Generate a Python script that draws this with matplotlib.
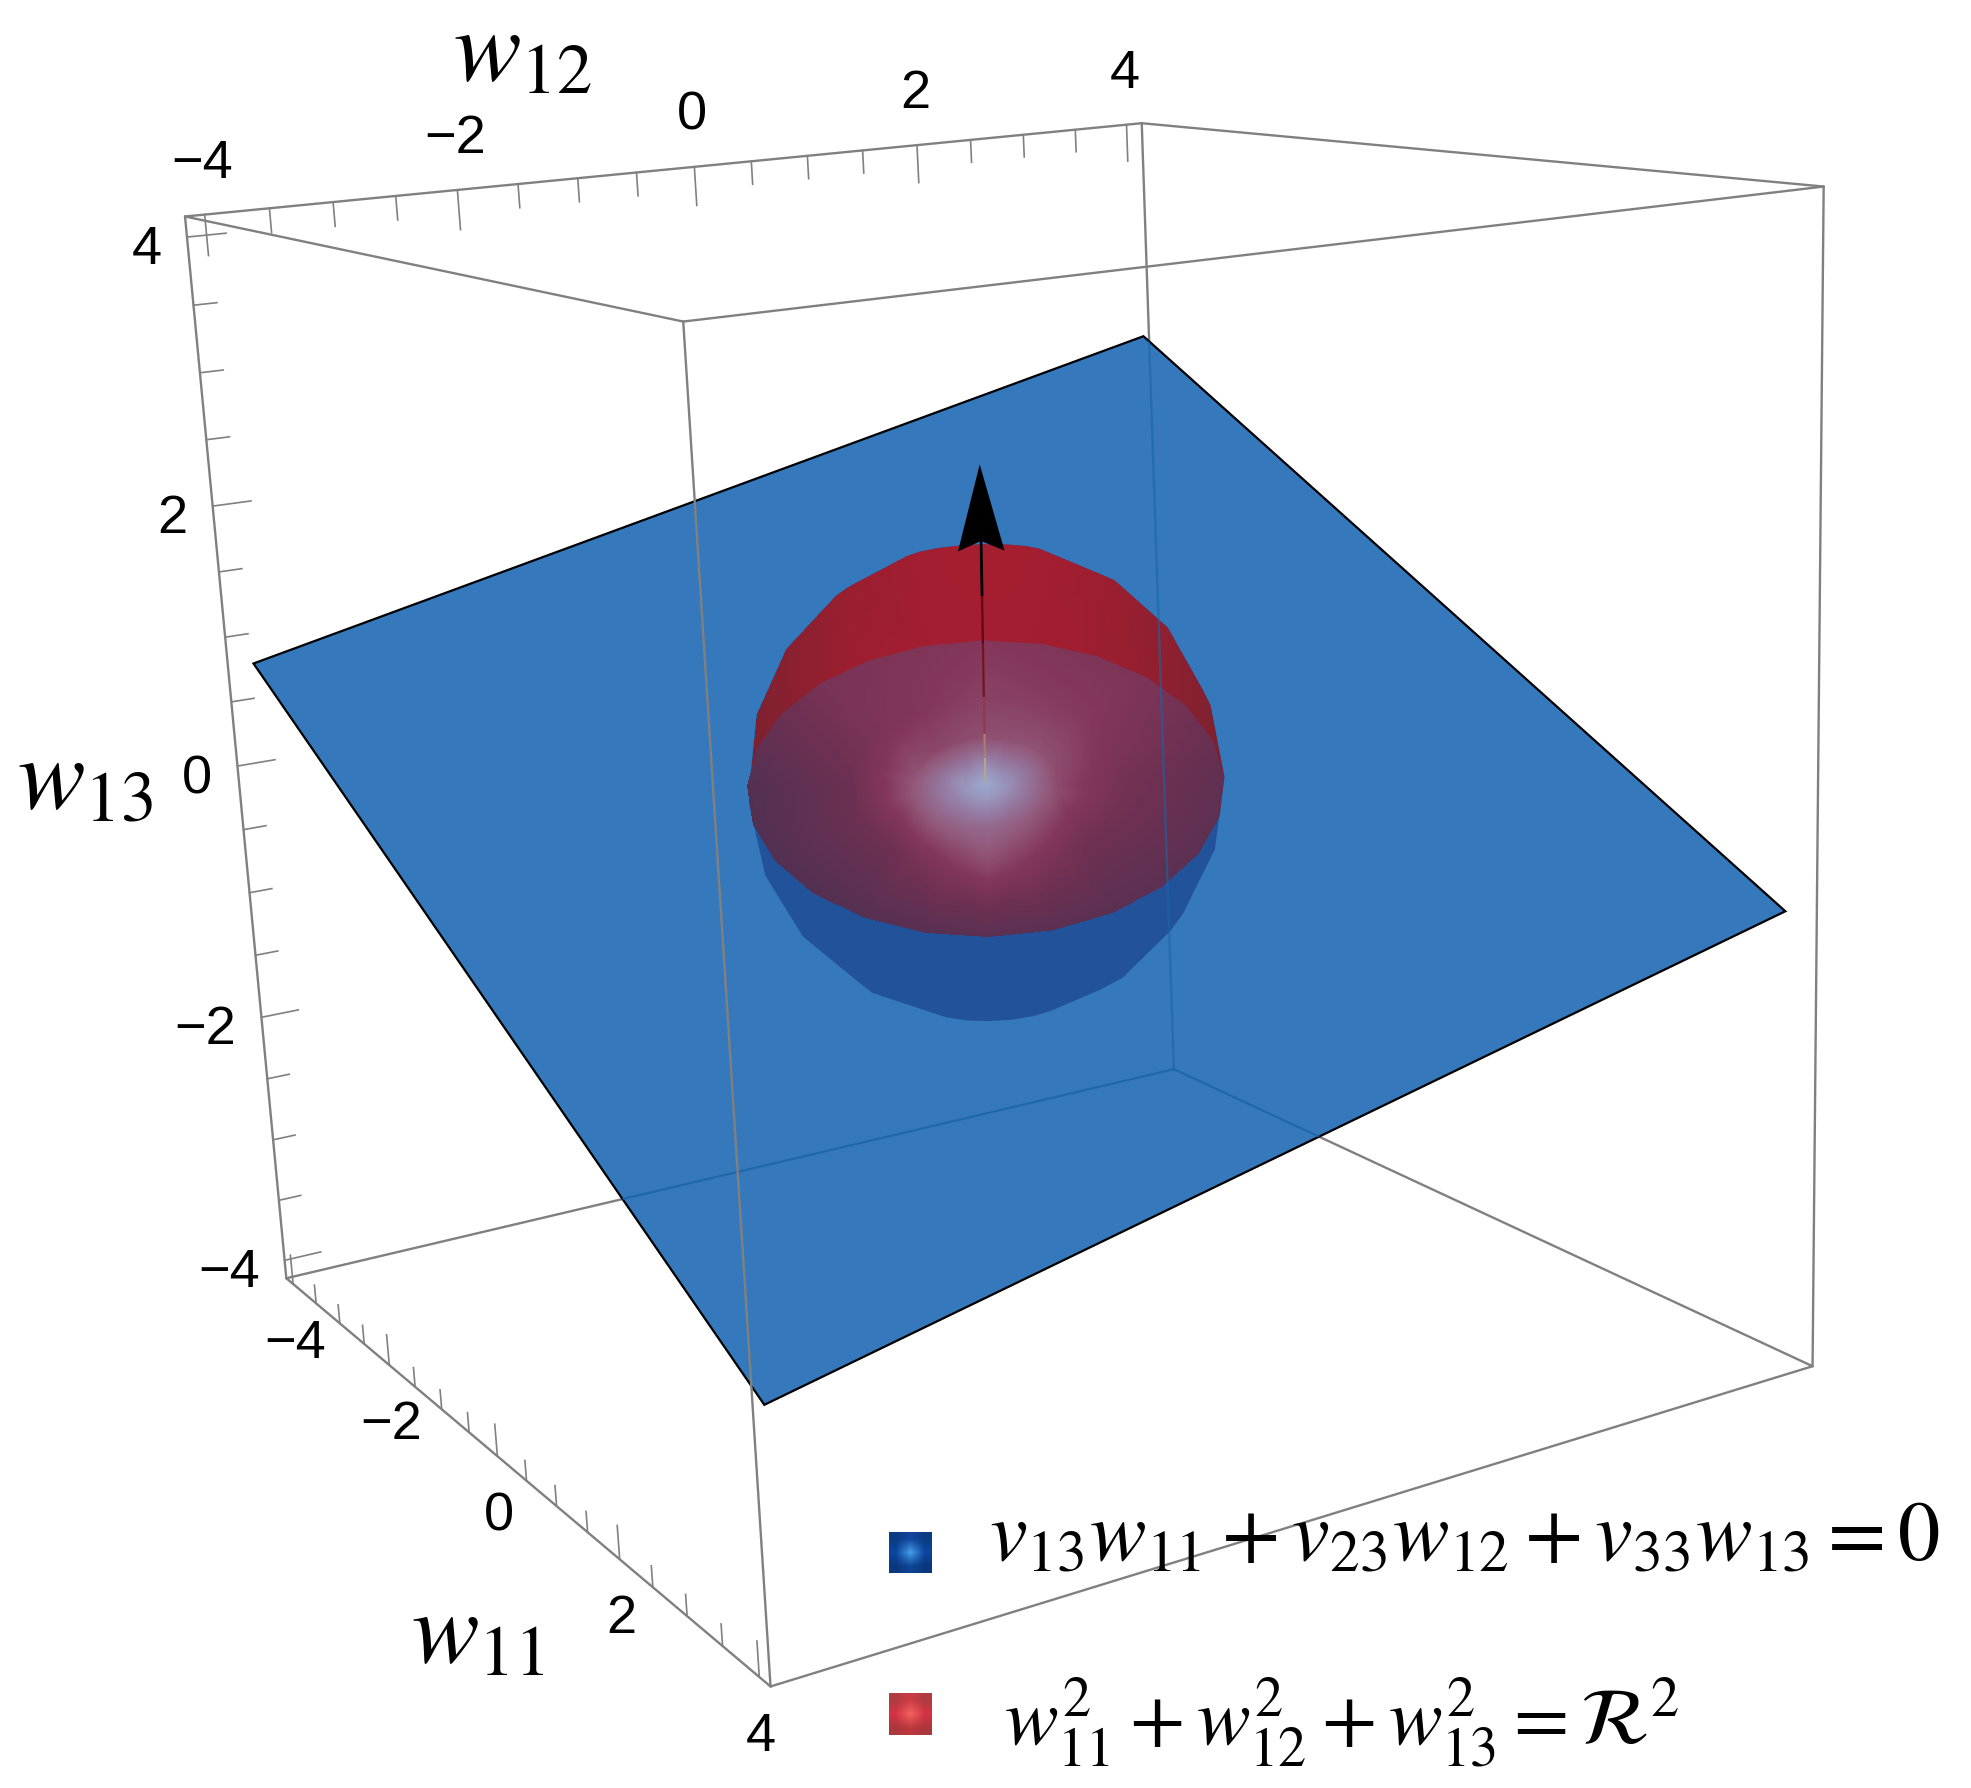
# Plane through the origin and a sphere inside a 3D box, drawn in a plain 2D axes
# through a perspective camera fitted to the box corners
import numpy as np
import matplotlib
matplotlib.use('Agg')  # no display here
import matplotlib.pyplot as plt
import matplotlib.tri as mtri
from matplotlib.collections import LineCollection
from matplotlib.colors import LinearSegmentedColormap
from matplotlib.patches import Polygon

WIDTH, HEIGHT = 1971, 1788

plt.rcParams['font.family'] = ['Liberation Sans', 'DejaVu Sans']
plt.rcParams['mathtext.fontset'] = 'stix'

# data
BOX = 4.15
MAJOR_TICKS = [-4, -2, 0, 2, 4]
MINOR_STEP = 0.5
NORMAL = [2, -1, 5]      # v13, v23, v33
PLANE_HALF = 4
RADIUS = 1.72
ARROW_FACTOR = 0.5       # tip = factor * NORMAL
NOTCH_AT = 0.77
SHAFT_STOPS = [0, 0.08, 0.16, 0.28, 0.45, 0.6, 0.77]
SHAFT_COLORS = ['#b8a488', '#a8806c', '#8c3c44', '#741420', '#640a12', '#000000']

RING_R = [0, 0.1, 0.3, 0.58, 1]
SHADE_CENTER = 1.0
SHADE_R10 = [0.88, 0.84, 0.88, 0.84, 0.90, 0.92, 0.94, 0.90]
SHADE_R30 = [0.54, 0.58, 0.56, 0.52, 0.60, 0.66, 0.70, 0.60]
SHADE_R58 = [0.32, 0.47, 0.50, 0.40, 0.24, 0.26, 0.52, 0.28]
SHADE_RIM = [0.15, 0.38, 0.45, 0.35, 0.03, 0.03, 0.10, 0.10]

AXIS_LABELS = ['$w_{11}$', '$w_{12}$', '$w_{13}$']
LEGEND_LABELS = ['$v_{13}w_{11}+v_{23}w_{12}+v_{33}w_{13}=0$',
                 '$w_{11}^{2}+w_{12}^{2}+w_{13}^{2}=\\mathcal{R}^{2}$']

# where the eight box corners land in the picture, used to fit the camera
VIEW_BOX = [[-1, -1, 1], [-1, 1, 1], [1, 1, 1], [1, -1, 1],
            [-1, -1, -1], [-1, 1, -1], [1, 1, -1], [1, -1, -1]]
VIEW_PX = [[185, 216], [1141, 123], [1824, 187], [684, 322],
           [287, 1278], [1174, 1070], [1813, 1365], [769, 1687]]

BOX_LINE = '#808080'
PLANE_BLUE = '#3578bc'
SPHERE_BLUE = '#22539a'
THROUGH_BLUE = '#1a64a8'


def fit_camera(world, px):
    rows = []
    for (X, Y, Z), (u, v) in zip(world, px):
        rows.append([X, Y, Z, 1, 0, 0, 0, 0, -u*X, -u*Y, -u*Z, -u])
        rows.append([0, 0, 0, 0, X, Y, Z, 1, -v*X, -v*Y, -v*Z, -v])
    return np.linalg.svd(np.array(rows))[2][-1].reshape(3, 4)


CAM = fit_camera(np.array(VIEW_BOX) * BOX, VIEW_PX)
cam_null = np.linalg.svd(CAM)[2][-1]
CAM_POS = cam_null[:3] / cam_null[3]


def proj(points):
    points = np.atleast_2d(points).astype(float)
    h = CAM @ np.c_[points, np.ones(len(points))].T
    return (h[:2] / h[2]).T


def hull(pts):
    # monotone chain
    pts = sorted(map(tuple, pts))
    def half(seq):
        out = []
        for p in seq:
            while len(out) > 1 and np.cross(np.subtract(out[-1], out[-2]), np.subtract(p, out[-1])) <= 0:
                out.pop()
            out.append(p)
        return out[:-1]
    return np.array(half(pts) + half(pts[::-1]))


def smooth_fill(x, y, values, cmap, zorder):
    # linear shading over a triangle mesh, painted as one image so no seams show
    tri = mtri.Triangulation(x, y)
    gx, gy = np.meshgrid(np.arange(np.floor(x.min()), np.ceil(x.max()) + 1),
                         np.arange(np.floor(y.min()), np.ceil(y.max()) + 1))
    grid = mtri.LinearTriInterpolator(tri, values)(gx, gy)
    return ax.imshow(grid, extent=(gx.min() - 0.5, gx.max() + 0.5, gy.max() + 0.5, gy.min() - 0.5),
                     cmap=cmap, vmin=0, vmax=1, aspect='auto', interpolation='bilinear', zorder=zorder)


fig = plt.figure(figsize=(WIDTH / 100, HEIGHT / 100), dpi=100)
ax = fig.add_axes([0, 0, 1, 1])
ax.axis('off')

corner = {name: np.array(c) * BOX for name, c in zip('ABCDEFGH', VIEW_BOX)}


def edge(p, q, **kw):
    ax.plot(*proj([corner[p], corner[q]]).T, solid_capstyle='round', **kw)


# box edges behind the plane
for p, q in ['AB', 'BC', 'CD', 'DA', 'EF', 'FG', 'GH', 'HE', 'AE', 'BF', 'CG']:
    edge(p, q, color=BOX_LINE, lw=1.7, zorder=1)

# plane
n = np.array(NORMAL, float)
plane_xy = np.array([[-1, -1], [-1, 1], [1, 1], [1, -1]]) * PLANE_HALF
plane_z = -(n[0] * plane_xy[:, 0] + n[1] * plane_xy[:, 1]) / n[2]
plane_px = proj(np.c_[plane_xy, plane_z])
ax.add_patch(Polygon(plane_px, closed=True, facecolor=PLANE_BLUE, edgecolor='black', lw=1.6, zorder=2))

# sphere outline from a coarse latitude/longitude mesh
lon = np.linspace(0, 2 * np.pi, 20, endpoint=False)
lat = np.linspace(-np.pi / 2, np.pi / 2, 11)
lo, la = np.meshgrid(lon, lat)
sphere = RADIUS * np.c_[(np.cos(la) * np.cos(lo)).ravel(), (np.cos(la) * np.sin(lo)).ravel(), np.sin(la).ravel()]
outline = hull(proj(sphere))
ax.add_patch(Polygon(outline, closed=True, facecolor=SPHERE_BLUE, edgecolor='none', zorder=3))

# disc where the sphere meets the plane
unit = n / np.linalg.norm(n)
e1 = np.cross(unit, CAM_POS)
e1 /= np.linalg.norm(e1)
e2 = np.cross(unit, e1)
theta = np.linspace(0, 2 * np.pi, 24, endpoint=False)
angle_known = np.linspace(0, 2 * np.pi, 9)


def ring_shade(values):
    return np.interp(theta, angle_known, list(values) + [values[0]])


rim_px = proj(RADIUS * (np.outer(np.cos(theta), e1) + np.outer(np.sin(theta), e2)))
left_pt = rim_px[np.argmin(rim_px[:, 0])]
right_pt = rim_px[np.argmax(rim_px[:, 0])]

# red cap above the disc, darker towards the sides
center_px = proj([[0, 0, 0]])[0]
cap_x = np.r_[center_px[0], center_px[0] + 0.55 * (outline[:, 0] - center_px[0]), outline[:, 0]]
cap_y = np.r_[center_px[1], center_px[1] + 0.55 * (outline[:, 1] - center_px[1]), outline[:, 1]]
side = np.abs(outline[:, 0] - center_px[0]) / (outline[:, 0].max() - center_px[0])
cap_val = np.r_[1, np.ones(len(outline)) * 0.95, 1 - side ** 2.2]
red_map = LinearSegmentedColormap.from_list('cap', ['#7c2230', '#a51e30'])
cap = smooth_fill(cap_x, cap_y, cap_val, red_map, 4)
slope = (right_pt - left_pt) / np.linalg.norm(right_pt - left_pt)
far_l, far_r = left_pt - 60 * slope, right_pt + 60 * slope
cap_clip = hull(np.r_[outline[outline[:, 1] < np.interp(outline[:, 0], [far_l[0], far_r[0]], [far_l[1], far_r[1]])], [left_pt, right_pt]])
cap.set_clip_path(Polygon(cap_clip, transform=ax.transData))

# disc shading on a polar mesh
xs, ys, vals = [center_px[0]], [center_px[1]], [SHADE_CENTER]
for r, shade in zip(RING_R[1:], [SHADE_R10, SHADE_R30, SHADE_R58, SHADE_RIM]):
    ring = proj(r * RADIUS * (np.outer(np.cos(theta), e1) + np.outer(np.sin(theta), e2)))
    xs.extend(ring[:, 0])
    ys.extend(ring[:, 1])
    vals.extend(ring_shade(shade))
disc_map = LinearSegmentedColormap.from_list('disc', [
    (0.0, (80/255, 48/255, 82/255)), (0.25, (108/255, 48/255, 82/255)),
    (0.45, (132/255, 55/255, 90/255)), (0.6, (146/255, 88/255, 122/255)),
    (0.8, (150/255, 125/255, 165/255)), (1.0, (155/255, 168/255, 205/255))])
disc = smooth_fill(np.array(xs), np.array(ys), np.array(vals), disc_map, 5)
disc.set_clip_path(Polygon(rim_px, transform=ax.transData))

# back edges seen through the plane
for p, q, alpha in [('B', 'F', 0.6), ('E', 'F', 0.8), ('F', 'G', 0.8)]:
    line = ax.plot(*proj([corner[p], corner[q]]).T, color=THROUGH_BLUE, lw=1.6, alpha=alpha, zorder=6)[0]
    line.set_clip_path(Polygon(plane_px, transform=ax.transData))

# front edge comes over everything
edge('D', 'H', color=BOX_LINE, lw=1.7, zorder=7)

# arrow along the plane normal
tip = ARROW_FACTOR * n
stops = proj(np.outer(SHAFT_STOPS, tip))
ax.add_collection(LineCollection(np.stack([stops[:-1], stops[1:]], axis=1), colors=SHAFT_COLORS,
                                 linewidths=[1.5, 1.5, 1.5, 1.6, 1.7, 2.0], zorder=8))
side_dir = e1 * 0.16
base = NOTCH_AT * 0.96 * tip
ax.add_patch(Polygon(proj([tip, base + side_dir, NOTCH_AT * tip, base - side_dir]), closed=True,
                     facecolor='black', edgecolor='none', zorder=9))


# ticks along three box edges
def ticks(axis, start, direction, major_len, minor_len):
    for t in np.arange(-4, 4 + MINOR_STEP / 2, MINOR_STEP):
        p = np.array(start, float)
        p[axis] = t
        size = major_len if t in MAJOR_TICKS else minor_len
        ax.plot(*proj([p, p + np.array(direction) * size]).T, color=BOX_LINE, lw=1.2, zorder=7)


ticks(0, [0, -BOX, -BOX], [0, 0, 1], 0.24, 0.15)
ticks(1, [-BOX, 0, BOX], [0, 0, -1], 0.30, 0.18)
ticks(2, [-BOX, -BOX, 0], [0, 1, 0], 0.30, 0.18)

TICK_SIZE = 39
for t in MAJOR_TICKS:
    label = str(t).replace('-', '\u2212')
    px, py = proj([t, -BOX, -BOX])[0]
    ax.text(px + 2, py + 60, label, fontsize=TICK_SIZE, ha='center', va='center', color='black', zorder=10)
    px, py = proj([-BOX, t, BOX])[0]
    ax.text(px - 2, py - 51, label, fontsize=TICK_SIZE, ha='center', va='center', color='black', zorder=10)
    px, py = proj([-BOX, -BOX, t])[0]
    ax.text(px - 25, py + 13, label, fontsize=TICK_SIZE, ha='right', va='center', color='black', zorder=10)

ax.text(478, 1637, AXIS_LABELS[0], fontsize=73, ha='center', va='center', zorder=10)
ax.text(522, 54, AXIS_LABELS[1], fontsize=73, ha='center', va='center', zorder=10)
ax.text(85, 782, AXIS_LABELS[2], fontsize=73, ha='center', va='center', zorder=10)

# legend
blue_key = np.array([[[10, 60, 130], [20, 70, 160], [10, 60, 130]],
                     [[10, 70, 160], [70, 160, 235], [10, 70, 160]],
                     [[10, 55, 125], [15, 70, 150], [10, 55, 125]]], dtype=np.uint8)
red_key = np.array([[[175, 60, 65], [205, 60, 70], [175, 60, 65]],
                    [[215, 50, 70], [245, 100, 95], [215, 50, 70]],
                    [[170, 55, 60], [190, 55, 60], [170, 55, 60]]], dtype=np.uint8)
ax.imshow(blue_key, extent=(889, 932, 1573, 1532), interpolation='bilinear', aspect='auto', zorder=10)
ax.imshow(red_key, extent=(889, 932, 1735, 1693), interpolation='bilinear', aspect='auto', zorder=10)
ax.text(989, 1560, LEGEND_LABELS[0], fontsize=61, ha='left', va='baseline', zorder=10)
ax.text(1004, 1745, LEGEND_LABELS[1], fontsize=58, ha='left', va='baseline', zorder=10)

ax.set_xlim(0, WIDTH)
ax.set_ylim(HEIGHT, 0)
fig.savefig('out.png', dpi=100, facecolor='white')
